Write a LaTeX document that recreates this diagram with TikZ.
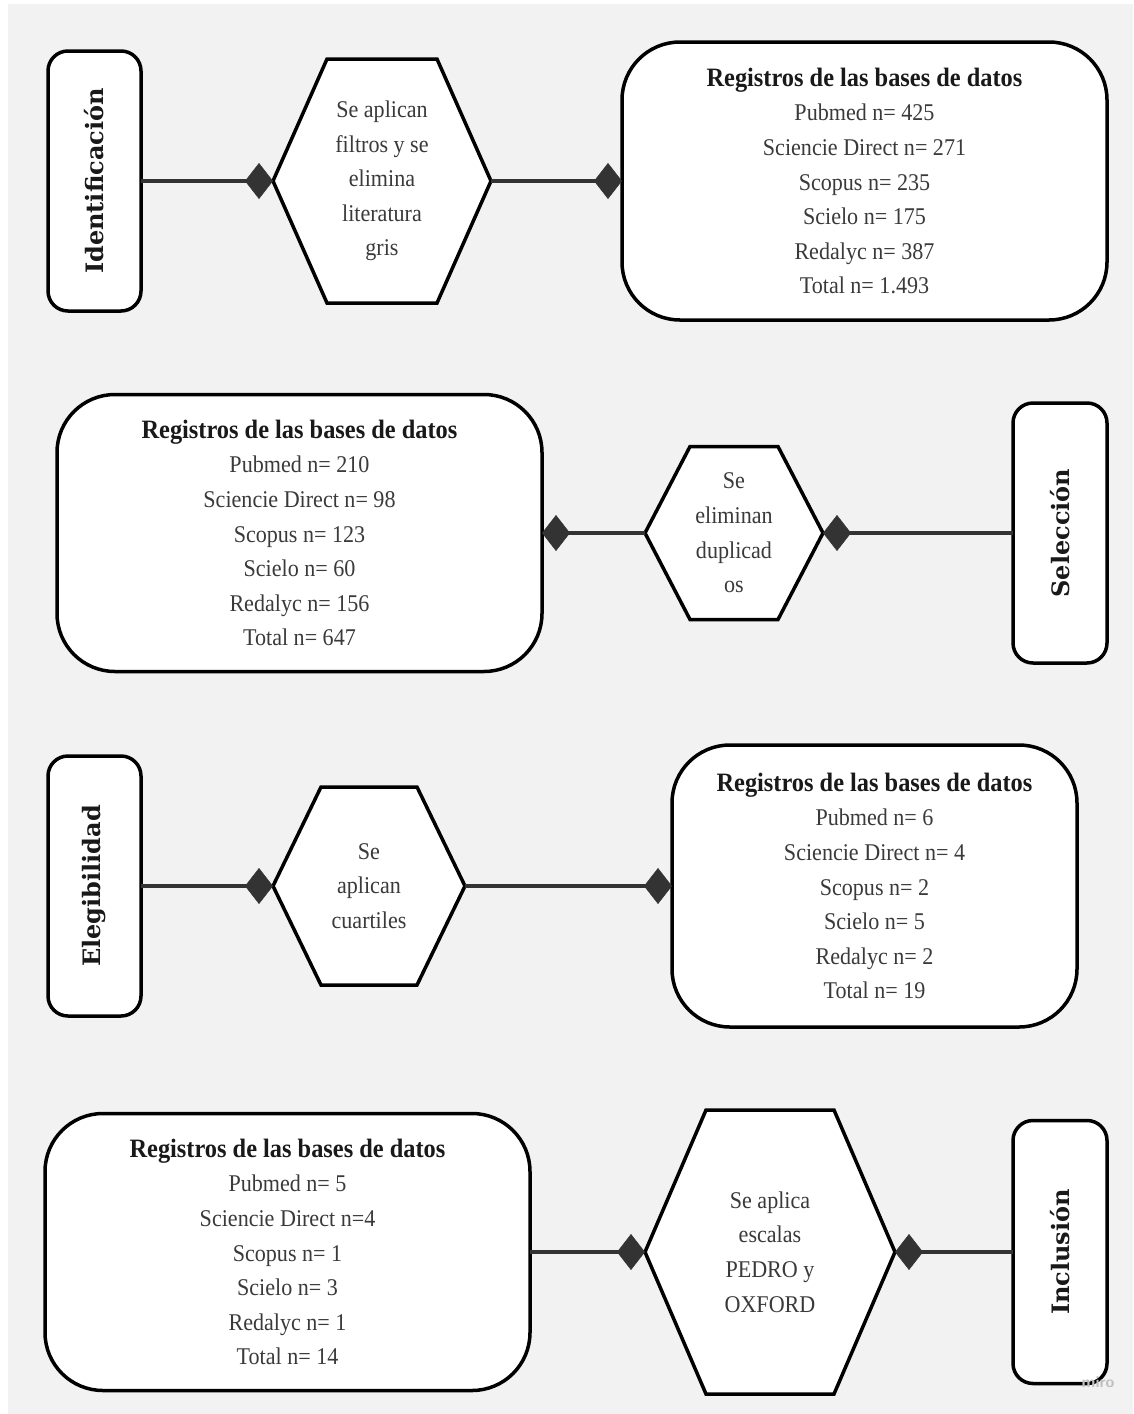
\documentclass[tikz,border=0pt]{standalone}
\usepackage{fontspec}
\usepackage{graphicx}
\setmainfont{Liberation Serif}[FakeStretch=0.92]
\newfontfamily\labfont{DejaVu Serif}
\usetikzlibrary{arrows.meta,backgrounds}
\definecolor{bggray}{HTML}{F2F2F2}
\definecolor{bodygray}{HTML}{3A3A3A}
\definecolor{linegray}{HTML}{333333}
\newcommand{\bodyfnt}{\fontsize{24}{34.6}\selectfont}
\newcommand{\hdr}[1]{{\fontsize{26.5}{34.6}\selectfont\bfseries\color{black!90}#1}}
\begin{document}
\begin{tikzpicture}[x=1pt,y=-1pt,
  bigbox/.style={draw=black,line width=3.5pt,fill=white,rounded corners=58pt,inner sep=0pt,outer sep=0pt,align=center,text=bodygray,font=\bodyfnt},
  lblbox/.style={draw=black,line width=3.5pt,fill=white,rounded corners=20pt,inner sep=0pt,outer sep=0pt,minimum width=93pt,minimum height=260pt,font=\labfont\bfseries\fontsize{24}{28}\selectfont,text=black!90},
  hexnode/.style={inner sep=0pt,outer sep=0pt,align=center,text=bodygray,font=\bodyfnt},
  hexline/.style={draw=black,fill=white,line width=3.5pt,line join=miter},
  conn/.style={draw=linegray,line width=4pt,-{Diamond[length=28pt,width=36pt,line width=0.5pt]}}]
\useasboundingbox (0,0) rectangle (1133,1414);

% Row 1 (y = 181)
\node[lblbox] (id) at (94.5,181) {\rotatebox{90}{Identificación}};
\node[hexnode,minimum width=218pt,minimum height=244pt] (h1) at (382,181) {Se aplican\\filtros y se\\elimina\\literatura\\gris};
\node[bigbox,minimum width=485pt,minimum height=278pt] (b1) at (864.5,181) {\hdr{Registros de las bases de datos}\\Pubmed n= 425\\Sciencie Direct n= 271\\Scopus n= 235\\Scielo n= 175\\Redalyc n= 387\\Total n= 1.493};

% Row 2 (y = 533)
\node[bigbox,minimum width=485pt,minimum height=277pt] (b2) at (299.5,533) {\hdr{Registros de las bases de datos}\\Pubmed n= 210\\Sciencie Direct n= 98\\Scopus n= 123\\Scielo n= 60\\Redalyc n= 156\\Total n= 647};
\node[hexnode,minimum width=178pt,minimum height=173pt] (h2) at (734,533) {Se\\eliminan\\duplicad\\os};
\node[lblbox,minimum width=94pt] (sel) at (1060,533) {\rotatebox{90}{Selección}};

% Row 3 (y = 886)
\node[lblbox] (el) at (94.5,886) {\rotatebox{90}{Elegibilidad}};
\node[hexnode,minimum width=192pt,minimum height=198pt] (h3) at (369,886) {Se\\aplican\\cuartiles};
\node[bigbox,minimum width=405pt,minimum height=282pt] (b3) at (874.5,886) {\hdr{Registros de las bases de datos}\\Pubmed n= 6\\Sciencie Direct n= 4\\Scopus n= 2\\Scielo n= 5\\Redalyc n= 2\\Total n= 19};

% Row 4 (y = 1252)
\node[bigbox,minimum width=485pt,minimum height=277pt] (b4) at (287.5,1252) {\hdr{Registros de las bases de datos}\\Pubmed n= 5\\Sciencie Direct n=4\\Scopus n= 1\\Scielo n= 3\\Redalyc n= 1\\Total n= 14};
\node[hexnode,minimum width=250pt,minimum height=284pt] (h4) at (770,1252) {Se aplica\\escalas\\PEDRO y\\OXFORD};
\node[lblbox,minimum width=94pt,minimum height=263pt] (inc) at (1060,1252) {\rotatebox{90}{Inclusión}};
\node[text=black!25,font=\sffamily\bfseries\fontsize{16}{18}\selectfont] (miro) at (1098,1382) {miro};

% background and hexagon outlines
\begin{scope}[on background layer]
\fill[white] (0,0) rectangle (1133,1414);
\fill[bggray] (8,4) rectangle (1133,1414);
\path[hexline] (h1.west) -- ([xshift=54pt]h1.north west) -- ([xshift=-54pt]h1.north east) -- (h1.east) -- ([xshift=-54pt]h1.south east) -- ([xshift=54pt]h1.south west) -- cycle;
\path[hexline] (h2.west) -- ([xshift=45pt]h2.north west) -- ([xshift=-45pt]h2.north east) -- (h2.east) -- ([xshift=-45pt]h2.south east) -- ([xshift=45pt]h2.south west) -- cycle;
\path[hexline] (h3.west) -- ([xshift=48pt]h3.north west) -- ([xshift=-48pt]h3.north east) -- (h3.east) -- ([xshift=-48pt]h3.south east) -- ([xshift=48pt]h3.south west) -- cycle;
\path[hexline] (h4.west) -- ([xshift=61pt]h4.north west) -- ([xshift=-61pt]h4.north east) -- (h4.east) -- ([xshift=-61pt]h4.south east) -- ([xshift=61pt]h4.south west) -- cycle;
\end{scope}

% connectors
\draw[conn] (id.east) -- (h1.west);
\draw[conn] (h1.east) -- (b1.west);
\draw[conn] (sel.west) -- (h2.east);
\draw[conn] (h2.west) -- (b2.east);
\draw[conn] (el.east) -- (h3.west);
\draw[conn] (h3.east) -- (b3.west);
\draw[conn] (b4.east) -- (h4.west);
\draw[conn] (inc.west) -- (h4.east);
\end{tikzpicture}
\end{document}
